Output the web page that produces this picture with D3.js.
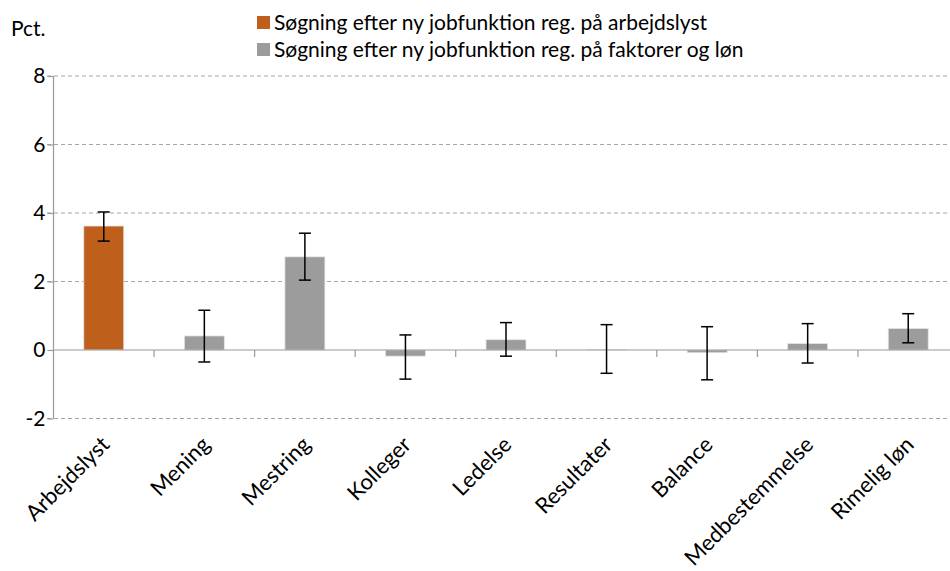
<!DOCTYPE html>
<html><head><meta charset="utf-8">
<script src="https://cdn.jsdelivr.net/npm/d3@7"></script>
<style>body{margin:0;background:#fff}svg{display:block}text{font-family:Lato,"Open Sans",sans-serif;fill:#000}</style>
</head><body><svg id="c" width="950" height="571"></svg>
<script>
const categories = ["Arbejdslyst","Mening","Mestring","Kolleger","Ledelse","Resultater","Balance","Medbestemmelse","Rimelig løn"];
const values = [3.62,0.41,2.72,-0.18,0.30,0.02,-0.08,0.19,0.63];
const errLow = [3.18,-0.35,2.04,-0.85,-0.18,-0.68,-0.87,-0.38,0.21];
const errHigh = [4.03,1.16,3.41,0.44,0.80,0.74,0.68,0.77,1.06];
const seriesIndex = [0,1,1,1,1,1,1,1,1];
const seriesNames = ["Søgning efter ny jobfunktion reg. på arbejdslyst","Søgning efter ny jobfunktion reg. på faktorer og løn"];
const seriesColors = ["#BE5F1B","#9C9C9C"];
const yTicks = [-2,0,2,4,6,8];

const svg = d3.select("#c");
const x = d3.scaleBand().domain(categories).range([53.5,958.5]).paddingInner(0.6).paddingOuter(0.3);
const y = d3.scaleLinear().domain([-2,8]).range([418.5,76]);

// gridlines
svg.append("g").selectAll("line").data(yTicks.filter(d=>d!==0)).join("line")
  .attr("x1",47).attr("x2",950).attr("y1",d=>y(d)).attr("y2",d=>y(d))
  .attr("stroke","#a6a6a6").attr("stroke-width",1.2).attr("stroke-dasharray","4,3");

// y axis
const yAxis = d3.axisLeft(y).tickValues(yTicks).tickSize(6).tickFormat(d=>String(d));
const gy = svg.append("g").attr("transform","translate(53.5,0)").call(yAxis);
gy.select(".domain").attr("stroke","#999").attr("stroke-width",1.2).attr("d","M0,"+y(8)+"V"+y(-2));
gy.selectAll(".tick line").attr("stroke","#999").attr("stroke-width",1.2);
gy.selectAll(".tick text").attr("x",-8).style("font-size","21px").style("font-family","Lato");

// bars
const bw = 40;
svg.append("g").selectAll("rect").data(values).join("rect")
  .attr("x",(d,i)=>x(categories[i])+x.bandwidth()/2-bw/2)
  .attr("width",bw)
  .attr("y",d=>y(Math.max(0,d)))
  .attr("height",d=>Math.abs(y(d)-y(0)))
  .attr("fill",(d,i)=>seriesColors[seriesIndex[i]])
  .attr("stroke","#e6e6e6").attr("stroke-width",0.8);

// zero line
svg.append("line").attr("x1",53.5).attr("x2",950).attr("y1",y(0)).attr("y2",y(0))
  .attr("stroke","#999").attr("stroke-width",1.2);
// x ticks at band boundaries
const step = x.step();
svg.append("g").selectAll("line").data(categories.slice(1)).join("line")
  .attr("x1",d=>x(d)-x.paddingInner()*step/2).attr("x2",d=>x(d)-x.paddingInner()*step/2)
  .attr("y1",y(0)).attr("y2",y(0)+7).attr("stroke","#999").attr("stroke-width",1.2);

// error bars
const eg = svg.append("g").attr("stroke","#000").attr("stroke-width",1.5);
categories.forEach((c,i)=>{
  const cx = x(c)+x.bandwidth()/2;
  eg.append("line").attr("x1",cx).attr("x2",cx).attr("y1",y(errHigh[i])).attr("y2",y(errLow[i]));
  eg.append("line").attr("x1",cx-6).attr("x2",cx+6).attr("y1",y(errHigh[i])).attr("y2",y(errHigh[i]));
  eg.append("line").attr("x1",cx-6).attr("x2",cx+6).attr("y1",y(errLow[i])).attr("y2",y(errLow[i]));
});

// x labels
svg.append("g").selectAll("text").data(categories).join("text")
  .attr("transform",d=>`translate(${x(d)+x.bandwidth()/2+7},${446}) rotate(-45)`)
  .attr("text-anchor","end").style("font-size","22px").text(d=>d);

// Pct.
svg.append("text").attr("x",11).attr("y",36).style("font-size","21px").text("Pct.");

// legend
const lg = svg.append("g");
seriesNames.forEach((n,i)=>{
  lg.append("rect").attr("x",257).attr("y",16+i*27).attr("width",13).attr("height",13).attr("fill",seriesColors[i]);
  lg.append("text").attr("x",274).attr("y",30+i*27).style("font-size","21px").text(n);
});
</script></body></html>
